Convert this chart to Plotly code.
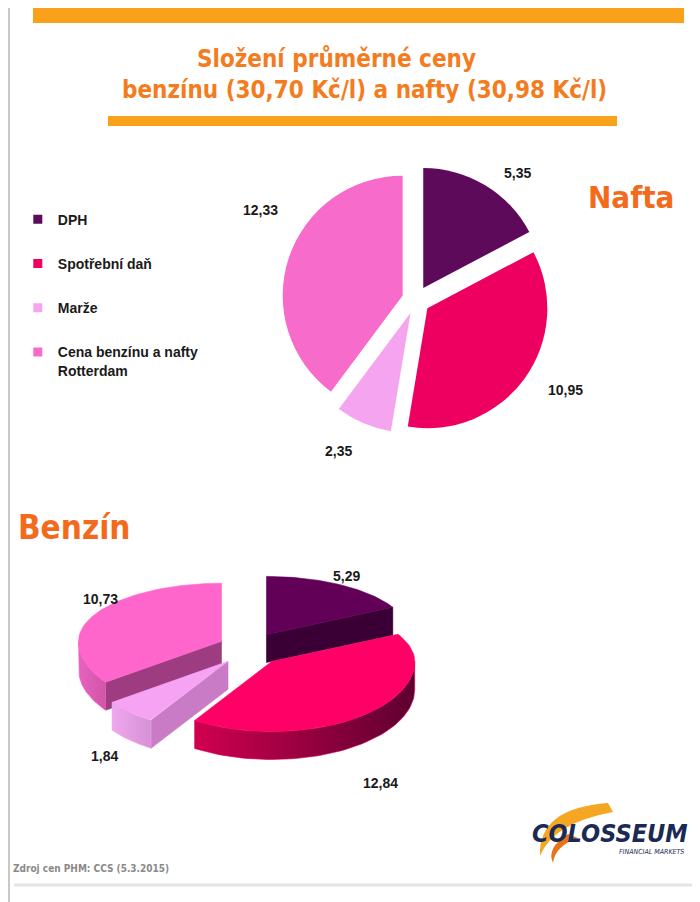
import math
import plotly.graph_objects as go

# data
labels = ["DPH", "Spotřební daň", "Marže", "Cena benzínu a nafty Rotterdam"]
nafta = [5.35, 10.95, 2.35, 12.33]
benzin = [5.29, 12.84, 1.84, 10.73]

# colours
nafta_colors = ["#5E0A5A", "#EE0060", "#F5A5F0", "#F76BCB"]
benzin_top = ["#620058", "#FF0066", "#F7A3F4", "#FF66CC"]
benzin_face = ["#3A0036", "#8A0040", "#C97BC6", "#9E3C82"]
benzin_wall = [("#4A0044", "#2A0026"), ("#D0004F", "#5E0030"),
               ("#EFA8EE", "#D690D4"), ("#E862C0", "#D055A8")]

ORANGE = "#F47C20"
BAR = "#F9A11B"
NARROW = "Liberation Sans Narrow, DejaVu Sans Condensed, Arial Narrow, sans-serif"
ARIAL = "Liberation Sans, Arial, sans-serif"


def fmt(v):
    return f"{v:.2f}".replace(".", ",")


fig = go.Figure()

# ---- Nafta: flat exploded pie ----
fig.add_trace(go.Pie(
    labels=labels, values=nafta, sort=False, direction="clockwise", rotation=0,
    pull=0.117, marker=dict(colors=nafta_colors, line=dict(width=0)),
    textinfo="none", showlegend=False,
    domain=dict(x=[0.3914, 0.7743], y=[0.5277, 0.8248]),
))

# ---- Benzín: tilted "3D" pie built from the values ----
cx, cy = 242, 641
ra, rb_back, rb_front = 143, 58, 70
depth = 28
ex_a, ex_b = 32, 17


def ell(ox, oy, t):
    r = math.radians(t)
    rb = rb_back if math.cos(r) > 0 else rb_front
    return ox + ra * math.sin(r), oy - rb * math.cos(r)


def arc(ox, oy, t0, t1, n=60):
    return [ell(ox, oy, t0 + (t1 - t0) * i / n) for i in range(n + 1)]


def poly(pts, color, grad=None):
    xs = [p[0] for p in pts] + [pts[0][0]]
    ys = [p[1] for p in pts] + [pts[0][1]]
    kw = dict(fillcolor=color)
    if grad:
        kw = dict(fillgradient=dict(type="horizontal",
                                    colorscale=[[0, grad[0]], [1, grad[1]]]))
    fig.add_trace(go.Scatter(x=xs, y=ys, mode="lines", fill="toself",
                             line=dict(width=0.6, color=color),
                             hoverinfo="skip", showlegend=False, **kw))


total_b = sum(benzin)
slices = []
acc = 0
for i, v in enumerate(benzin):
    a0 = acc / total_b * 360
    acc += v
    a1 = acc / total_b * 360
    mid = math.radians((a0 + a1) / 2)
    ox = cx + ex_a * math.sin(mid)
    oy = cy - ex_b * math.cos(mid)
    slices.append((oy, i, ox, a0, a1))

for oy, i, ox, a0, a1 in sorted(slices):
    # radial cut faces facing the viewer
    for a, phi in ((a0, a0 - 90), (a1, a1 + 90)):
        if math.cos(math.radians(phi)) < -0.01:
            px, py = ell(ox, oy, a)
            poly([(ox, oy), (px, py), (px, py + depth), (ox, oy + depth)],
                 benzin_face[i])
    # outer wall (front half only)
    t0, t1 = max(a0, 90), min(a1, 270)
    if t0 < t1:
        top = arc(ox, oy, t0, t1)
        bot = [(x, y + depth) for x, y in reversed(top)]
        poly(top + bot, benzin_wall[i][0], grad=benzin_wall[i])
    # top face
    poly([(ox, oy)] + arc(ox, oy, a0, a1), benzin_top[i])

# ---- legend (markers only) ----
legend_names = ["DPH", "Spotřební daň", "Marže", "Cena benzínu a nafty<br>Rotterdam"]
for name, col in zip(legend_names, nafta_colors):
    fig.add_trace(go.Scatter(x=[None], y=[None], mode="markers", name=f"<b>{name}</b>",
                             legendgroup=name,
                             marker=dict(symbol="square", size=9, color=col)))

# ---- value labels ----
nafta_label_xy = [(509, 165), (557, 382), (330, 443), (252, 202)]
benzin_label_xy = [(338, 568), (372, 775), (96, 748), (92, 591)]
ann = []
for vals, pos in ((nafta, nafta_label_xy), (benzin, benzin_label_xy)):
    for v, (x, y) in zip(vals, pos):
        ann.append(dict(x=x, y=y, xref="x", yref="y", text=f"<b>{fmt(v)}</b>",
                        showarrow=False, font=dict(family=ARIAL, size=14, color="#1a1a1a")))

ann += [
    dict(x=328, y=51, xref="x", yref="y", text="<b>Složení průměrné ceny</b>", showarrow=False,
         font=dict(family=NARROW, size=24, color=ORANGE)),
    dict(x=356, y=82, xref="x", yref="y",
         text=f"<b>benzínu ({fmt(sum(benzin))} Kč/l) a nafty ({fmt(sum(nafta))} Kč/l)</b>",
         showarrow=False, font=dict(family=NARROW, size=24, color=ORANGE)),
    dict(x=623, y=189, xref="x", yref="y", text="<b>Nafta</b>", showarrow=False,
         font=dict(family=NARROW, size=31, color="#F26B1D")),
    dict(x=66, y=519, xref="x", yref="y", text="<b>Benzín</b>", showarrow=False,
         font=dict(family=NARROW, size=33, color="#F26B1D")),
    dict(x=3, y=860, xref="x", yref="y", text="<b>Zdroj cen PHM: CCS (5.3.2015)</b>",
         showarrow=False, xanchor="left",
         font=dict(family=NARROW, size=10, color="#8a8a8a")),
    dict(x=682, y=825, xref="x", yref="y", text="<b><i>COLOSSEUM</i></b>", showarrow=False,
         xanchor="right", font=dict(family=NARROW, size=25, color="#1B2A55")),
    dict(x=678, y=844, xref="x", yref="y", text="<i>FINANCIAL MARKETS</i>", showarrow=False,
         xanchor="right", font=dict(family=NARROW, size=7, color="#1B2A55")),
]

shapes = [
    dict(type="rect", xref="x", yref="y", x0=25, x1=676, y0=0, y1=15,
         fillcolor=BAR, line=dict(width=0)),
    dict(type="rect", xref="x", yref="y", x0=100, x1=609, y0=108, y1=118,
         fillcolor=BAR, line=dict(width=0)),
    dict(type="line", xref="x", yref="y", x0=6, x1=690, y0=877, y1=877,
         line=dict(color="#E4E4E4", width=3)),
    dict(type="rect", xref="x", yref="y", x0=1, x1=698, y0=-5, y1=898,
         line=dict(color="#C8C8C8", width=2)),
    # orange swoosh of the logo
    dict(type="path", xref="x", yref="y",
         path="M 600,795 Q 530,800 532,848 Q 545,815 605,804 Z",
         fillcolor="#F5A623", line=dict(width=0)),
    dict(type="path", xref="x", yref="y",
         path="M 560,826 Q 538,840 545,855 Q 547,838 570,830 Z",
         fillcolor="#E8731A", line=dict(width=0)),
]

fig.update_layout(
    width=700, height=902, margin=dict(l=0, r=0, t=0, b=0),
    paper_bgcolor="white", plot_bgcolor="white",
    xaxis=dict(range=[0, 700], visible=False, fixedrange=True),
    yaxis=dict(range=[902, 0], visible=False, fixedrange=True),
    annotations=ann, shapes=shapes,
    legend=dict(x=0.014, y=0.783, xanchor="left", yanchor="top", tracegroupgap=23,
                itemwidth=30, valign="top", bgcolor="rgba(0,0,0,0)",
                font=dict(family=ARIAL, size=14, color="#1a1a1a")),
    showlegend=True,
)

fig.write_html("out.html")
